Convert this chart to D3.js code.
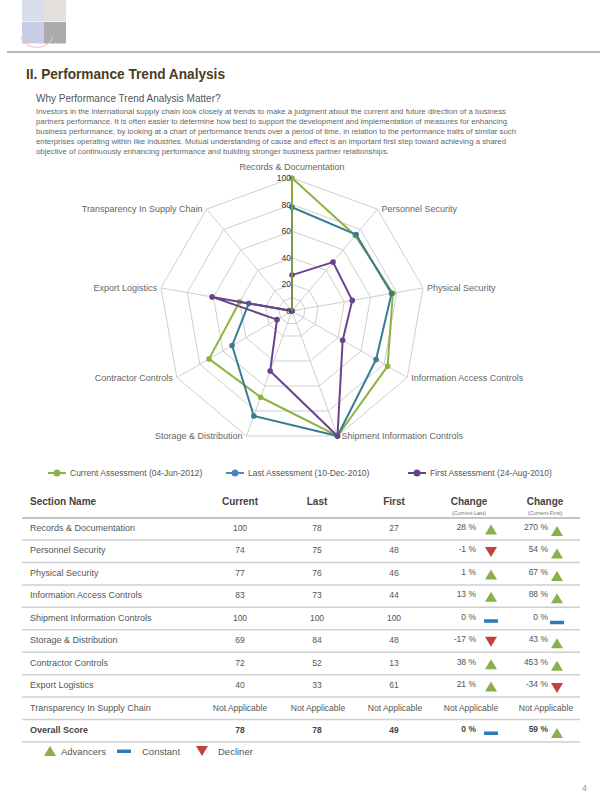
<!DOCTYPE html>
<html>
<head>
<meta charset="utf-8">
<script src="https://cdn.jsdelivr.net/npm/d3@7"></script>
<style>
  html, body { margin: 0; padding: 0; background: #fff; }
  svg { display: block; font-family: "Liberation Sans", Arial, sans-serif; }
</style>
</head>
<body>
<div id="page"></div>
<script>
// ---- data ----
const sections = ["Records & Documentation", "Personnel Security", "Physical Security",
  "Information Access Controls", "Shipment Information Controls", "Storage & Distribution",
  "Contractor Controls", "Export Logistics", "Transparency In Supply Chain"];
const currentScores = [100, 74, 77, 83, 100, 69, 72, 40, null];
const lastScores    = [78, 75, 76, 73, 100, 84, 52, 33, null];
const firstScores   = [27, 48, 46, 44, 100, 48, 13, 61, null];
const changeLast    = [28, -1, 1, 13, 0, -17, 38, 21, null];
const changeFirst   = [270, 54, 67, 88, 0, 43, 453, -34, null];
const overall       = { current: 78, last: 78, first: 49, changeLast: 0, changeFirst: 59 };
const radarTicks = [0, 20, 40, 60, 80, 100];
const gridLevels = [10, 20, 40, 60, 80, 100];
const seriesNames = ["Current Assessment (04-Jun-2012)", "Last Assessment (10-Dec-2010)", "First Assessment (24-Aug-2010)"];
const paragraph = [
  "Investors in the international supply chain look closely at trends to  make a judgment about the current  and future direction of a business",
  "partners performance. It is often easier to determine how best to support the development and implementation of measures for enhancing",
  "business performance, by looking at a chart of performance trends over a period of time, in relation to the performance traits of similar such",
  "enterprises operating within like industries. Mutual understanding of cause and effect is an important first step toward achieving a shared",
  "objective of continuously enhancing performance and building stronger business partner relationships."
];

const W = 600, H = 803;
const svg = d3.select("#page").append("svg").attr("width", W).attr("height", H);

// ---- header ----
const logo = svg.append("g");
[["#d9dde9", 22, 0], ["#e5e0dc", 44, 0], ["#c6cde4", 22, 22], ["#ababab", 44, 22]].forEach(([c, x, y]) => {
  logo.append("rect").attr("x", x).attr("y", y).attr("width", 22).attr("height", 21.5).attr("fill", c);
});
logo.append("path").attr("d", d3.arc()({ innerRadius: 17, outerRadius: 18, startAngle: Math.PI * 0.62, endAngle: Math.PI * 1.38 }))
  .attr("transform", "translate(37,30)").attr("fill", "#f3c4c4");
svg.append("line").attr("x1", 7).attr("x2", 600).attr("y1", 52).attr("y2", 52)
  .attr("stroke", "#a0a0a0").attr("stroke-width", 1.5);

svg.append("text").attr("x", 26).attr("y", 79).attr("font-size", 14).attr("font-weight", "bold")
  .attr("fill", "#4a3c22").attr("textLength", 199).attr("lengthAdjust", "spacingAndGlyphs")
  .text("II. Performance Trend Analysis");
svg.append("text").attr("x", 36).attr("y", 102).attr("font-size", 10).attr("fill", "#555")
  .text("Why Performance Trend Analysis Matter?");
const paraEnds = [506, 507, 516, 506, 389];
paragraph.forEach((line, i) => {
  svg.append("text").attr("x", 36).attr("y", 113.5 + i * 10.2).attr("font-size", 7)
    .attr("fill", "#666").attr("textLength", paraEnds[i] - 36).attr("lengthAdjust", "spacingAndGlyphs")
    .text(line);
});

// ---- radar ----
const cx = 292, cy = 311, R = 133;
const rScale = d3.scaleLinear().domain([0, 100]).range([0, R]);
const angle = d3.scaleLinear().domain([0, sections.length]).range([0, 2 * Math.PI]);
const radar = svg.append("g").attr("transform", `translate(${cx},${cy})`);
const pt = (i, v) => [Math.sin(angle(i)) * rScale(v), -Math.cos(angle(i)) * rScale(v)];

const gridLine = d3.lineRadial().angle((d, i) => angle(i)).radius(d => rScale(d)).curve(d3.curveLinearClosed);
gridLevels.forEach(lv => {
  radar.append("path").attr("d", gridLine(sections.map(() => lv)))
    .attr("fill", "none").attr("stroke", "#cfcfcf").attr("stroke-width", 1);
});
sections.forEach((s, i) => {
  const [x, y] = pt(i, 100);
  radar.append("line").attr("x1", 0).attr("y1", 0).attr("x2", x).attr("y2", y)
    .attr("stroke", "#cfcfcf").attr("stroke-width", 1);
  const a = angle(i);
  let anchor = "middle", dx = 0, dy = 3;
  if (i === 0) { dy = -8.5; }
  else if (Math.sin(a) > 0) { anchor = "start"; dx = 4; }
  else { anchor = "end"; dx = -4; }
  radar.append("text").attr("x", x + dx).attr("y", y + dy).attr("text-anchor", anchor)
    .attr("font-size", 9).attr("fill", "#666").text(s);
});

const series = [
  { values: currentScores, color: "#8db33f" },
  { values: lastScores, color: "#3a7b93" },
  { values: firstScores, color: "#6a428c" }
];
const seriesLine = d3.lineRadial().angle((d, i) => angle(i)).radius(d => rScale(d ?? 0)).curve(d3.curveLinearClosed);
series.forEach(s => {
  radar.append("path").attr("d", seriesLine(s.values)).attr("fill", "none")
    .attr("stroke", s.color).attr("stroke-width", 2).attr("stroke-linejoin", "round");
  radar.selectAll(null).data(s.values).enter().append("circle")
    .attr("cx", (d, i) => pt(i, d ?? 0)[0]).attr("cy", (d, i) => pt(i, d ?? 0)[1])
    .attr("r", 2.8).attr("fill", s.color);
});
// axis line on the first spoke
radar.append("line").attr("x1", 0).attr("y1", 0).attr("x2", 0).attr("y2", -R)
  .attr("stroke", "#8aa63a").attr("stroke-width", 1.5);
radarTicks.forEach(t => {
  radar.append("text").attr("x", -1).attr("y", -rScale(t) + 3).attr("text-anchor", "end")
    .attr("font-size", 8.5).attr("fill", "#333").text(t);
});

// ---- legend ----
const legendX = [48, 226, 408];
const legendColors = ["#8db33f", "#4a86c3", "#6a428c"];
seriesNames.forEach((n, i) => {
  const g = svg.append("g").attr("transform", `translate(${legendX[i]},473)`);
  g.append("line").attr("x1", 0).attr("x2", 18).attr("stroke", legendColors[i]).attr("stroke-width", 2);
  g.append("circle").attr("cx", 9).attr("r", 3.5).attr("fill", legendColors[i]);
  g.append("text").attr("x", 22).attr("y", 3).attr("font-size", 8.5).attr("fill", "#555").text(n);
});

// ---- table ----
const table = svg.append("g");
const rowNames = sections.concat(["Overall Score"]);
const rowY = d3.scalePoint().domain(rowNames).range([528, 730]);
const colX = { current: 240, last: 317, first: 394, ch1: 469, ch2: 545 };

const hdr = [["Current", colX.current], ["Last", colX.last], ["First", colX.first], ["Change", colX.ch1], ["Change", colX.ch2]];
table.append("text").attr("x", 30).attr("y", 505).attr("font-size", 10).attr("font-weight", "bold")
  .attr("fill", "#444").text("Section Name");
hdr.forEach(([t, x]) => {
  table.append("text").attr("x", x).attr("y", 505).attr("text-anchor", "middle").attr("font-size", 10)
    .attr("font-weight", "bold").attr("fill", "#444").text(t);
});
[["(Current-Last)", colX.ch1], ["(Current-First)", colX.ch2]].forEach(([t, x]) => {
  table.append("text").attr("x", x).attr("y", 515).attr("text-anchor", "middle").attr("font-size", 5.5)
    .attr("fill", "#777").text(t);
});
table.append("line").attr("x1", 22).attr("x2", 580).attr("y1", 518).attr("y2", 518)
  .attr("stroke", "#c4c4c4").attr("stroke-width", 2);

function icon(g, x, y, v) {
  if (v > 0) {
    g.append("path").attr("d", `M${x - 6},${y + 5}L${x + 6},${y + 5}L${x},${y - 5}Z`).attr("fill", "#8aaf4c");
  } else if (v < 0) {
    g.append("path").attr("d", `M${x - 6},${y - 5}L${x + 6},${y - 5}L${x},${y + 5}Z`).attr("fill", "#c4413c");
  } else {
    g.append("rect").attr("x", x - 7).attr("y", y).attr("width", 14).attr("height", 3.5).attr("fill", "#2b7db3");
  }
}

rowNames.forEach((name, i) => {
  const y = rowY(name);
  const bold = name === "Overall Score";
  const vals = bold ? [overall.current, overall.last, overall.first, overall.changeLast, overall.changeFirst]
    : [currentScores[i], lastScores[i], firstScores[i], changeLast[i], changeFirst[i]];
  const g = table.append("g").attr("font-size", 9).attr("fill", bold ? "#444" : "#555")
    .attr("font-weight", bold ? "bold" : "normal");
  g.append("text").attr("x", 30).attr("y", y + 3).text(name);
  if (vals[0] == null) {
    [colX.current, colX.last + 1, colX.first + 1, colX.ch1 + 2, colX.ch2 + 1].forEach(x => {
      g.append("text").attr("x", x).attr("y", y + 3).attr("text-anchor", "middle").attr("font-size", 8.5).text("Not Applicable");
    });
  } else {
    [colX.current, colX.last, colX.first].forEach((x, k) => {
      g.append("text").attr("x", x).attr("y", y + 3).attr("text-anchor", "middle").attr("font-size", 8.5).text(vals[k]);
    });
    g.append("text").attr("x", 476).attr("y", y + 2).attr("text-anchor", "end").attr("font-size", 8.5).text(vals[3] + " %");
    icon(g, 491, y + 1.5, vals[3]);
    g.append("text").attr("x", 548).attr("y", y + 2).attr("text-anchor", "end").attr("font-size", 8.5).text(vals[4] + " %");
    icon(g, 557, y + 3, vals[4]);
  }
  table.append("line").attr("x1", 22).attr("x2", 580).attr("y1", y + 12).attr("y2", y + 12)
    .attr("stroke", "#cfcfcf").attr("stroke-width", 1.5);
});

// ---- icon legend ----
const leg = svg.append("g");
icon(leg, 50, 751, 1);
leg.append("text").attr("x", 61).attr("y", 755).attr("font-size", 9.5).attr("fill", "#555").text("Advancers");
icon(leg, 124, 749.5, 0);
leg.append("text").attr("x", 142).attr("y", 755).attr("font-size", 9.5).attr("fill", "#555").text("Constant");
icon(leg, 202, 751, -1);
leg.append("text").attr("x", 218).attr("y", 755).attr("font-size", 9.5).attr("fill", "#555").text("Decliner");

svg.append("text").attr("x", 582).attr("y", 791).attr("font-size", 9).attr("fill", "#999").text("4");
</script>
</body>
</html>
